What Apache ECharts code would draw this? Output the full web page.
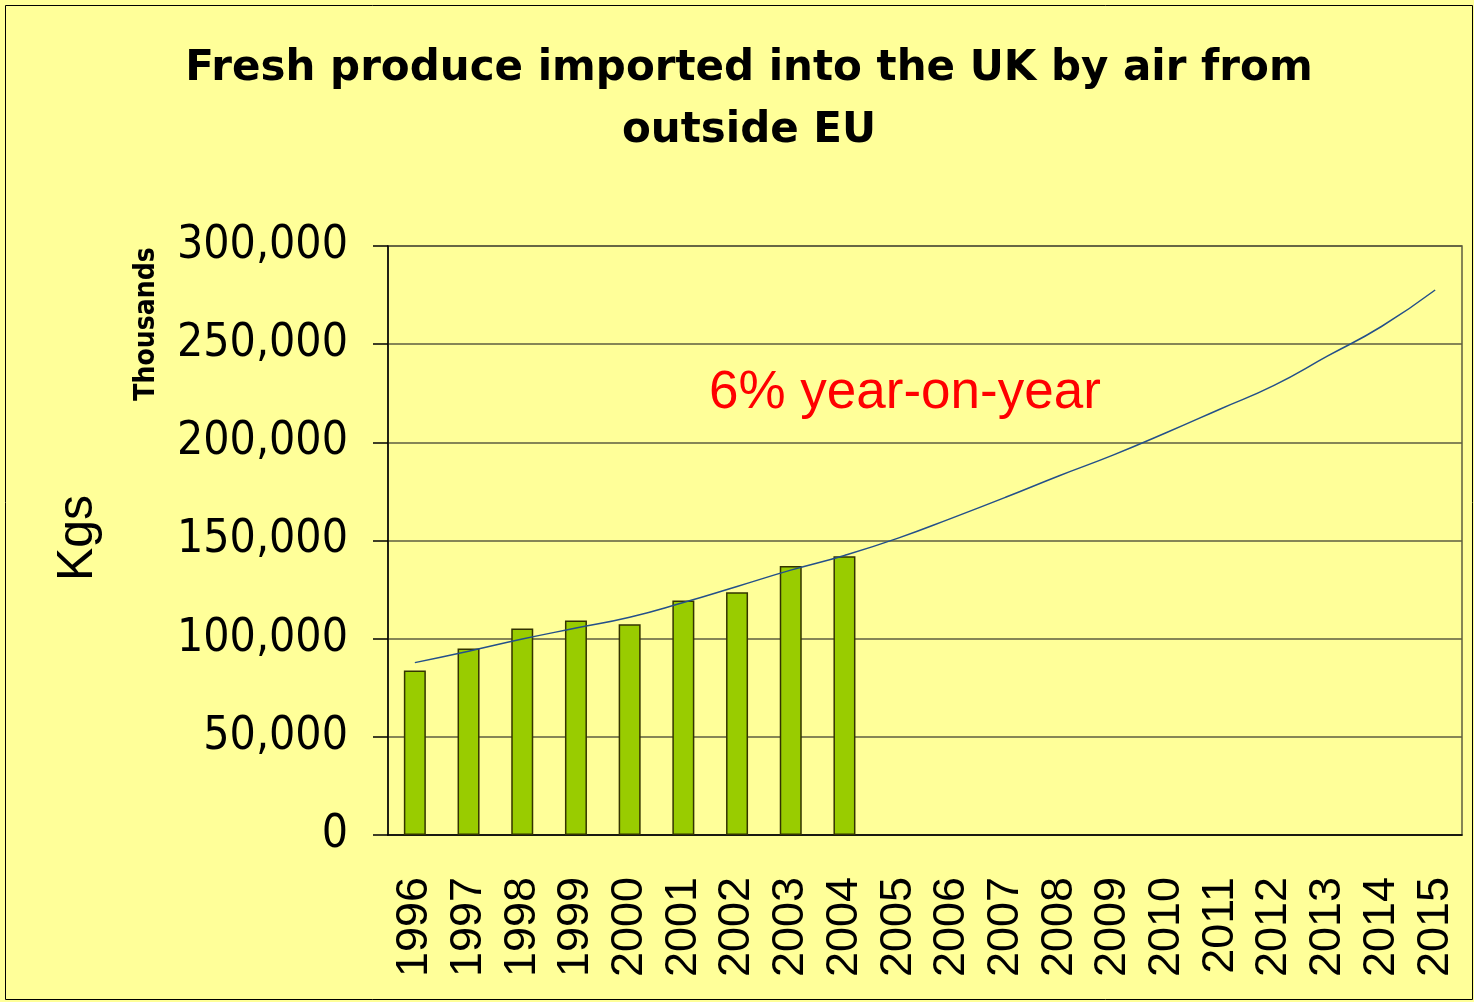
<!DOCTYPE html>
<html>
<head>
<meta charset="utf-8">
<script src="https://cdn.jsdelivr.net/npm/echarts@6/dist/echarts.min.js"></script>
<style>
html,body{margin:0;padding:0;background:#ffffff;}
#c{width:1474px;height:1002px;}
</style>
</head>
<body>
<div id="c"></div>
<script>
var years = ['1996','1997','1998','1999','2000','2001','2002','2003','2004','2005','2006','2007','2008','2009','2010','2011','2012','2013','2014','2015'];
var actualKgs = [83800, 95000, 105200, 109300, 107300, 119400, 123600, 137000, 142000, null, null, null, null, null, null, null, null, null, null, null];
var trendKgs = [87800, 93600, 99800, 105400, 110900, 118400, 126600, 134900, 142400, 151200, 161400, 172000, 183000, 193500, 205000, 217000, 229000, 244000, 259000, 277600];
var yTicks = [0, 50000, 100000, 150000, 200000, 250000, 300000];

var chart = echarts.init(document.getElementById('c'), null, {renderer:'canvas'});
var tickFont = "'DejaVu Sans Condensed','DejaVu Sans',sans-serif";
chart.setOption({
  backgroundColor: '#FFFF99',
  animation: false,
  title: {
    text: 'Fresh produce imported into the UK by air from\noutside EU',
    left: 744, top: 33, textAlign: 'center',
    textStyle: {fontFamily: "'DejaVu Sans',sans-serif", fontWeight: 'bold', fontSize: 42, lineHeight: 62, color: '#000'}
  },
  graphic: [
    {type:'rect', shape:{x:5.5,y:5.5,width:1467,height:994}, style:{fill:'none', stroke:'#000', lineWidth:1}, silent:true, z:-1},
    {type:'text', left: 709, top: 367, style:{text:'6% year-on-year', font:"53px 'Liberation Sans', Arial, sans-serif", fill:'#FF0000'}},
    {type:'text', x: 147, y: 324, rotation: Math.PI/2, style:{text:'Thousands', font:"bold 28px 'DejaVu Sans Condensed','DejaVu Sans',sans-serif", fill:'#000', align:'center', verticalAlign:'middle'}},
    {type:'text', x: 78, y: 538, rotation: Math.PI/2, style:{text:'Kgs', font:"50px 'Liberation Sans', Arial, sans-serif", fill:'#000', align:'center', verticalAlign:'middle'}}
  ],
  grid: {left: 388, right: 12, top: 246, bottom: 167, containLabel: false,
    show: true, borderColor: '#5e5e40', borderWidth: 1.5, backgroundColor: 'transparent'},
  xAxis: {
    type: 'category', data: years, boundaryGap: true,
    axisLine: {lineStyle:{color:'#000', width:1.5}},
    axisTick: {show:false},
    axisLabel: {interval: 0, rotate: 90, margin: 42, fontSize: 45, fontFamily: "'Liberation Sans', Arial, sans-serif", color:'#000'},
    splitLine: {show:false}
  },
  yAxis: {
    type: 'value', min: 0, max: 300000, interval: 50000,
    axisLine: {show:true, lineStyle:{color:'#000', width:1.5}},
    axisTick: {show:true, inside:false, length:15, lineStyle:{color:'#000', width:1.5}},
    axisLabel: {margin: 40, fontSize: 46, fontFamily: tickFont, color:'#000',
      formatter: function(v){ return v.toLocaleString('en-US'); }},
    splitLine: {show:true, lineStyle:{color:'#5e5e40', width:1.5}}
  },
  series: [
    {type:'bar', data: actualKgs, barWidth: 22,
      itemStyle:{color:'#99CC00', borderColor:'#333300', borderWidth:1.5}},
    {type:'line', data: trendKgs, symbol:'none', smooth: true,
      lineStyle:{color:'#24508A', width:1.5}, z: 5}
  ]
});
</script>
</body>
</html>
